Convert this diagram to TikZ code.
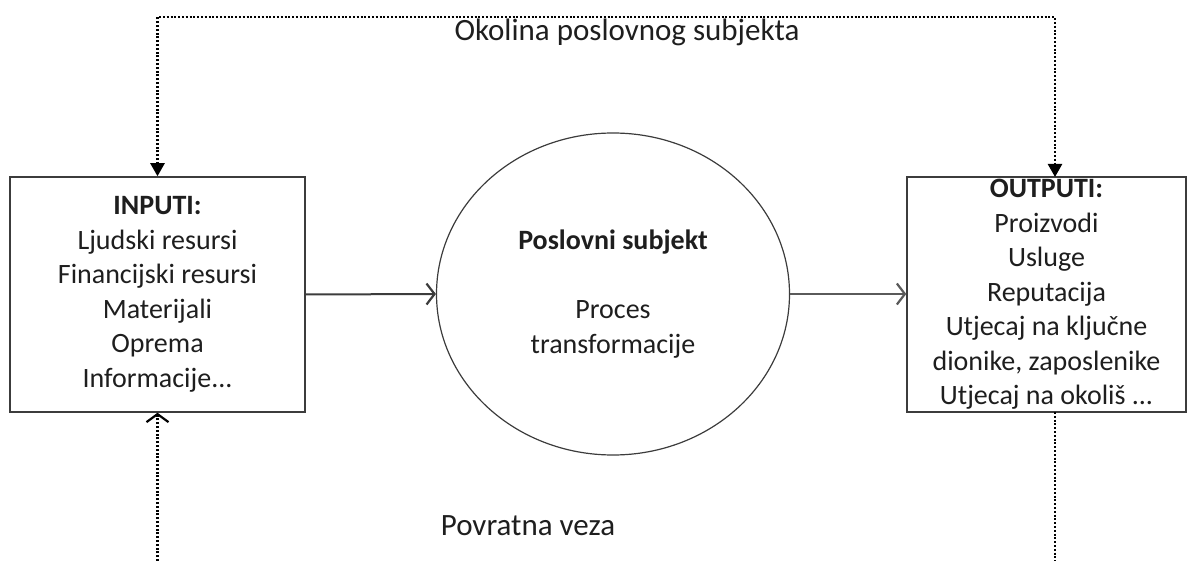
\documentclass[tikz,border=0pt]{standalone}
\usepackage{fontspec}
\setmainfont{Carlito}
\usetikzlibrary{
    arrows.meta,
    shapes.geometric,
    calc,
    positioning
}
\definecolor{inkgray}{HTML}{1E1E1E}
\definecolor{linegray}{HTML}{3C3C3C}
\definecolor{pale}{HTML}{5A5A5A}
\tikzset{
    txt/.style={font=\fontsize{28}{34.5}\selectfont, text=inkgray, align=center, inner sep=0pt},
    bigtxt/.style={txt, font=\fontsize{31}{36}\selectfont},
    listbox/.style={txt, draw=linegray, line width=1.5pt, rectangle},
    envline/.style={line width=2.4pt, dash pattern=on 2pt off 1.8pt, draw=black},
    flowarrow/.style={line width=2pt, draw=linegray, -{Straight Barb[length=8pt,width=21pt,line width=2.2pt]}}
}

\begin{document}
\begin{tikzpicture}[x=1pt, y=-1pt]
    \useasboundingbox (0, 0) rectangle (1196, 561);
    \node[listbox, minimum width=295, minimum height=235] (inputs) at (157.5, 294.5)
        {\textbf{INPUTI:}\\Ljudski resursi\\Financijski resursi\\Materijali\\Oprema\\Informacije...};
    \node[listbox, minimum width=279, minimum height=235] (outputs) at (1046.5, 294.5)
        {\textbf{OUTPUTI:}\\Proizvodi\\Usluge\\Reputacija\\Utjecaj na ključne\\dionike, zaposlenike\\Utjecaj na okoliš ...};
    \node[txt, ellipse, draw=linegray, line width=1.2pt, minimum width=353, minimum height=322] (firm) at (613, 294)
        {\textbf{Poslovni subjekt}\\\mbox{}\\Proces\\transformacije};
    \node[bigtxt] (env) at (627, 32) {Okolina poslovnog subjekta};
    \node[bigtxt] (feedback) at (528, 526) {Povratna veza};
    \coordinate (outtop) at (1055, 177);
    \coordinate (outbot) at (1055, 412);
    \coordinate (fbstart) at (157.5, 561);
    \coordinate (fbend) at (1055, 561);
    % main flow
    \draw[flowarrow] (inputs.east) -- (firm.west);
    \draw[flowarrow, draw=pale, line width=1.4pt] (firm.east) -- (outputs.west |- firm.east);
    % environment
    \draw[envline, {Triangle[length=13pt,width=14pt]}-{Triangle[length=13pt,width=14pt]}]
        (inputs.north) -- ++(0, -159) -| (outtop);
    % feedback
    \draw[envline, -{Straight Barb[length=8pt,width=22pt,line width=2.2pt]}] (fbstart) -- (inputs.south);
    \draw[envline] (outbot) -- (fbend);
\end{tikzpicture}
\end{document}
